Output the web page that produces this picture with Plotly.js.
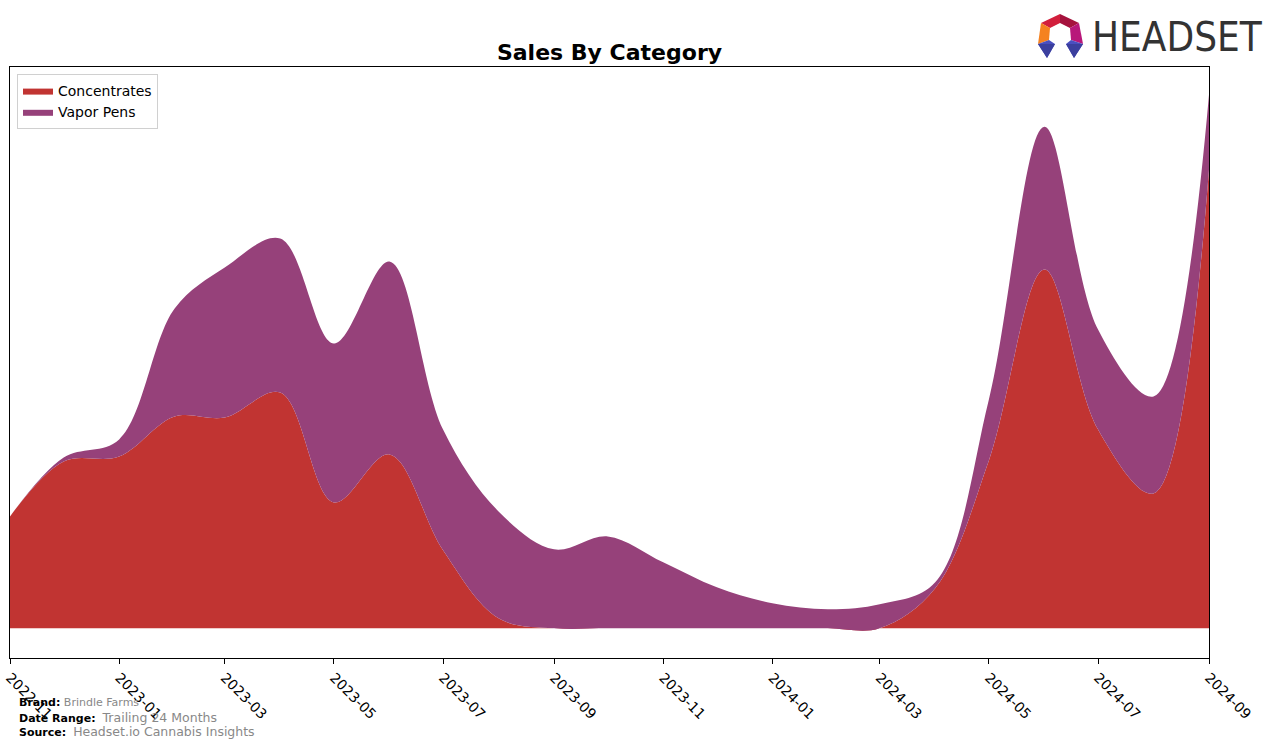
<!DOCTYPE html>
<html>
<head>
<meta charset="utf-8">
<script src="https://cdn.plot.ly/plotly-3.0.1.min.js"></script>
<style>html,body{margin:0;padding:0;background:#fff;}#chart{width:1276px;height:747px;}</style>
</head>
<body>
<div id="chart"></div>
<script>
// ---- data ----
const months = ["2022-11-01","2022-12-01","2023-01-01","2023-02-01","2023-03-01","2023-04-01","2023-05-01","2023-06-01","2023-07-01","2023-08-01","2023-09-01","2023-10-01","2023-11-01","2023-12-01","2024-01-01","2024-02-01","2024-03-01","2024-04-01","2024-05-01","2024-06-01","2024-07-01","2024-08-01","2024-09-01"];
const concentrates = [112, 167, 172, 212, 211, 236, 126, 174, 78, 10, 0, 0, 0, 0, 0, 0, 0, 40, 168, 359, 199, 135, 459];
const vaporPens = [0, 4, 17, 108, 150, 154, 159, 193, 121, 107, 79, 92, 66, 41, 25, 19, 24, 6, 61, 143, 100, 97, 75];
const tickVals = ["2022-11-01","2023-01-01","2023-03-01","2023-05-01","2023-07-01","2023-09-01","2023-11-01","2024-01-01","2024-03-01","2024-05-01","2024-07-01","2024-09-01"];
const tickLabels = ["2022-11","2023-01","2023-03","2023-05","2023-07","2023-09","2023-11","2024-01","2024-03","2024-05","2024-07","2024-09"];

// ---- layout helpers (pixel -> paper) ----
const L = 10, R = 1209, T = 67, B = 658;
const px = x => (x - L) / (R - L);
const py = y => (B - y) / (B - T);
function poly(pts, color) {
  let d = pts.map((p, i) => (i ? "L" : "M") + px(p[0]) + "," + py(p[1])).join(" ") + " Z";
  return {type: "path", xref: "paper", yref: "paper", path: d, fillcolor: color, line: {width: 0}, layer: "above"};
}

const traces = [
  {x: months, y: concentrates, name: "Concentrates", type: "scatter", mode: "lines",
   stackgroup: "one", line: {shape: "spline", smoothing: 1, width: 0, color: "#c13432"},
   fillcolor: "#c13432", hoverinfo: "x+y"},
  {x: months, y: vaporPens, name: "Vapor Pens", type: "scatter", mode: "lines",
   stackgroup: "one", line: {shape: "spline", smoothing: 1, width: 0, color: "#96417a"},
   fillcolor: "#96417a", hoverinfo: "x+y"}
];

const footFont = "DejaVu Sans, sans-serif";
const layout = {
  width: 1276, height: 747,
  margin: {l: L, r: 1276 - R, t: T, b: 747 - B, pad: 0},
  paper_bgcolor: "#fff", plot_bgcolor: "#fff",
  title: {text: "<b>Sales By Category</b>", font: {family: "DejaVu Sans, sans-serif", size: 22, color: "#000"},
          x: 609.5 / 1276, xanchor: "center", y: 1 - 52 / 747, yanchor: "middle"},
  showlegend: true,
  legend: {x: px(17), y: py(74), xanchor: "left", yanchor: "top", bgcolor: "#fff",
           bordercolor: "#d0d0d0", borderwidth: 1, traceorder: "normal",
           font: {family: "DejaVu Sans, sans-serif", size: 14, color: "#000"}},
  xaxis: {type: "date", range: ["2022-11-01", "2024-09-01"], tickvals: tickVals, ticktext: tickLabels,
          tickangle: 45, ticks: "outside", ticklen: 5, tickcolor: "#000", tickwidth: 1,
          showline: true, mirror: true, linecolor: "#000", linewidth: 1, showgrid: false, zeroline: false,
          tickfont: {family: "DejaVu Sans, sans-serif", size: 14, color: "#000"}},
  yaxis: {range: [-29.7, 561.7], showticklabels: false, ticks: "", showgrid: false, zeroline: false,
          showline: true, mirror: true, linecolor: "#000", linewidth: 1},
  annotations: [
    {xref: "paper", yref: "paper", x: px(17), y: py(702), xanchor: "left", yanchor: "middle", showarrow: false,
     text: "<b>Brand:</b> <span style='color:#888'>Brindle Farms</span>", font: {family: footFont, size: 11, color: "#000"}},
    {xref: "paper", yref: "paper", x: px(17), y: py(717), xanchor: "left", yanchor: "middle", showarrow: false,
     text: "<b>Date Range:</b>  <span style='color:#888;font-size:12.5px'>Trailing 24 Months</span>", font: {family: footFont, size: 11, color: "#000"}},
    {xref: "paper", yref: "paper", x: px(17), y: py(731), xanchor: "left", yanchor: "middle", showarrow: false,
     text: "<b>Source:</b>  <span style='color:#888;font-size:12.5px'>Headset.io Cannabis Insights</span>", font: {family: footFont, size: 11, color: "#000"}},
    {xref: "paper", yref: "paper", x: px(1090), y: py(37), xanchor: "left", yanchor: "middle", showarrow: false,
     text: "HEADSET", font: {family: "DejaVu Sans Condensed, Liberation Sans Narrow, sans-serif", size: 40, color: "#333333"}}
  ],
  shapes: [
    poly([[1041,23],[1060,14],[1060,23],[1050,28]], "#d21f3c"),
    poly([[1060,14],[1079,23],[1070,28],[1060,23]], "#a5123d"),
    poly([[1041,23],[1050,28],[1049,40],[1038,44]], "#f58220"),
    poly([[1079,23],[1083,44],[1071,40],[1070,28]], "#b8177a"),
    poly([[1038,44],[1049,40],[1055,44],[1047,58]], "#4a4fc0"),
    poly([[1038,44],[1055,44],[1047,58]], "#3b3f9e"),
    poly([[1066,44],[1071,40],[1083,44],[1074,58]], "#4a4fc0"),
    poly([[1066,44],[1083,44],[1074,58]], "#3b3f9e")
  ]
};

Plotly.newPlot("chart", traces, layout, {displayModeBar: false, staticPlot: true});
</script>
</body>
</html>
